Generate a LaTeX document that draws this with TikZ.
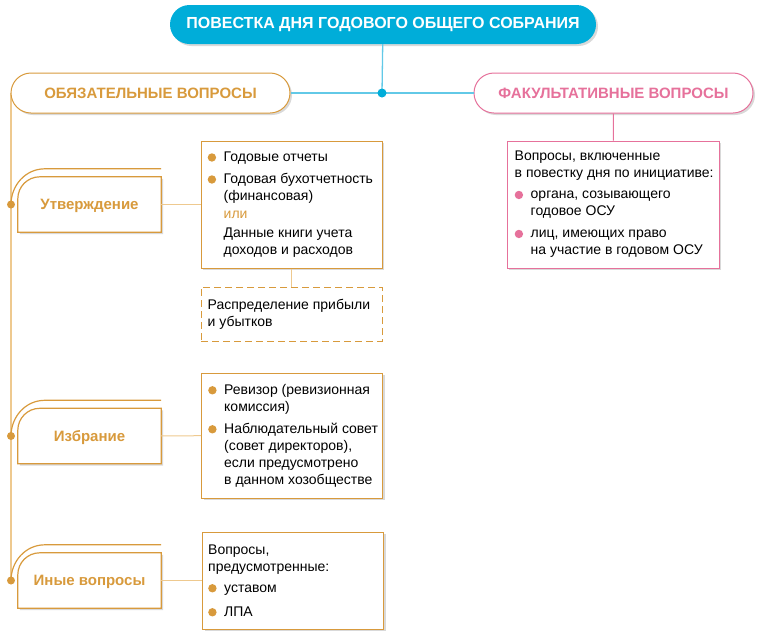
\documentclass[tikz,border=0pt]{standalone}
\usepackage{fontspec}
\setmainfont{Liberation Sans}
\usetikzlibrary{shadows,calc,backgrounds}
\definecolor{gold}{HTML}{D89A3C}
\definecolor{lgold}{HTML}{EEC98F}
\definecolor{cyanb}{HTML}{00ADD9}
\definecolor{lblue}{HTML}{62C9E7}
\definecolor{pinkr}{HTML}{E6719B}
\newcommand{\gdot}{\makebox[16pt][l]{\tikz[baseline=-3.9pt]\fill[gold] (4.2pt,0) circle (4.2pt);}}
\newcommand{\pdot}{\makebox[16pt][l]{\tikz[baseline=-3.9pt]\fill[pinkr] (4.2pt,0) circle (4.2pt);}}
\newcommand{\ind}{\hspace*{16pt}}

\begin{document}
\begin{tikzpicture}[x=1pt,y=-1pt,
  shade/.style={drop shadow={shadow xshift=2pt,shadow yshift=-2pt,fill=black,opacity=0.15}},
  pill/.style={rounded corners=20pt,minimum width=279pt,minimum height=40pt,line width=1pt,fill=white,font=\bfseries\fontsize{15}{18}\selectfont,shade},
  titlebox/.style={rounded corners=19.5pt,minimum width=426pt,minimum height=39pt,fill=cyanb,text=white,font=\bfseries\fontsize{16}{19}\selectfont,shade},
  catbox/.style={minimum width=143pt,minimum height=55pt,inner sep=0pt,text height=10.5pt,text depth=0pt,text=gold,font=\bfseries\fontsize{15}{18}\selectfont},
  infobox/.style={draw=gold,line width=1pt,fill=white,minimum width=181pt,shade},
  txt/.style={inner sep=0pt,align=left,font=\fontsize{14}{17}\selectfont},
  catline/.style={draw=gold,line width=1.2pt},
  gline/.style={draw=lgold,line width=1pt},
  bline/.style={draw=lblue,line width=1.3pt},
  pline/.style={draw=pinkr,line width=1pt}]
\useasboundingbox (0,0) rectangle (764,641);
%\draw[help lines,step=20] (0,0) grid (764,641);
\coordinate (junc) at (382,93);
\coordinate (d1) at (11,204.5);
\coordinate (d2) at (11,436);
\coordinate (d3) at (11,580.5);
\draw[lgold,line width=1.3pt] (11,93) -- (d3);
\node (title) [titlebox] at (383,24.5) {ПОВЕСТКА ДНЯ ГОДОВОГО ОБЩЕГО СОБРАНИЯ};
\node (oblig) [pill,draw=gold,text=gold] at (150.5,93) {ОБЯЗАТЕЛЬНЫЕ ВОПРОСЫ};
\node (opt) [pill,draw=pinkr,text=pinkr] at (613.5,93) {ФАКУЛЬТАТИВНЫЕ ВОПРОСЫ};
\node (appr) [catbox] at (89.5,204.5) {Утверждение};
\node (elect) [catbox] at (89.5,436) {Избрание};
\node (other) [catbox] at (89.5,580.5) {Иные вопросы};
\node (apprbox) [infobox,minimum height=127pt] at (291.5,204.5) {};
\node (profit) [draw=gold,line width=1pt,dash pattern=on 7pt off 4pt,minimum width=181pt,minimum height=54pt] at (291.5,314) {};
\node (elebox) [infobox,minimum height=125pt] at (292,435.5) {};
\node (othbox) [infobox,minimum height=97pt] at (293,580.5) {};
\node (optbox) [infobox,draw=pinkr,minimum width=212pt,minimum height=127pt] at (613,204.5) {};
\node (appr txt) [txt,anchor=west] at ([xshift=7pt]apprbox.west) {\gdot Годовые отчеты\\[5pt]
\gdot Годовая бухотчетность\\
\ind(финансовая)\\[1pt]
\ind\textcolor{gold}{или}\\[2pt]
\ind Данные книги учета\\
\ind доходов и расходов};
\node (profit txt) [txt,anchor=west] at ([xshift=7pt]profit.west) {Распределение прибыли\\ и убытков};
\node (ele txt) [txt,anchor=west] at ([xshift=7pt]elebox.west) {\gdot Ревизор (ревизионная\\
\ind комиссия)\\[5pt]
\gdot Наблюдательный совет\\
\ind (совет директоров),\\
\ind если предусмотрено\\
\ind в данном хозобществе};
\node (oth txt) [txt,anchor=west] at ([xshift=6pt]othbox.west) {Вопросы,\\
предусмотренные:\\[4pt]
\gdot уставом\\[7pt]
\gdot ЛПА};
\node (opt txt) [txt,anchor=west] at ([xshift=8pt]optbox.west) {Вопросы, включенные\\
в повестку дня по инициативе:\\[4pt]
\pdot органа, созывающего\\
\ind годовое ОСУ\\[5pt]
\pdot лиц, имеющих право\\
\ind на участие в годовом ОСУ};
\begin{scope}[on background layer]
\foreach \c in {appr,elect,other}
  \draw[catline,fill=white,shade] (\c.south east) -- (\c.south west) -- ($(\c.north west)+(0,22)$)
    to[out=90,in=180] ($(\c.north west)+(22,0)$) -- (\c.north east) -- cycle;
\end{scope}
\foreach \c/\d in {appr/d1,elect/d2,other/d3}{
  \draw[catline] (\d) to[out=90,in=180] ($(\c.north west)+(27,-8)$) -- ($(\c.north east)+(0,-8)$);
  \fill[gold] (\d) circle (4pt);
}
\path[bline]
(title) edge (junc)
(oblig) edge (opt);
\fill[cyanb] (junc) circle (4.5pt);
\path[pline] (opt) edge (optbox);
\path[gline]
(appr) edge (apprbox)
(elect) edge (elebox)
(other) edge (othbox)
(apprbox) edge (profit);
\end{tikzpicture}
\end{document}
